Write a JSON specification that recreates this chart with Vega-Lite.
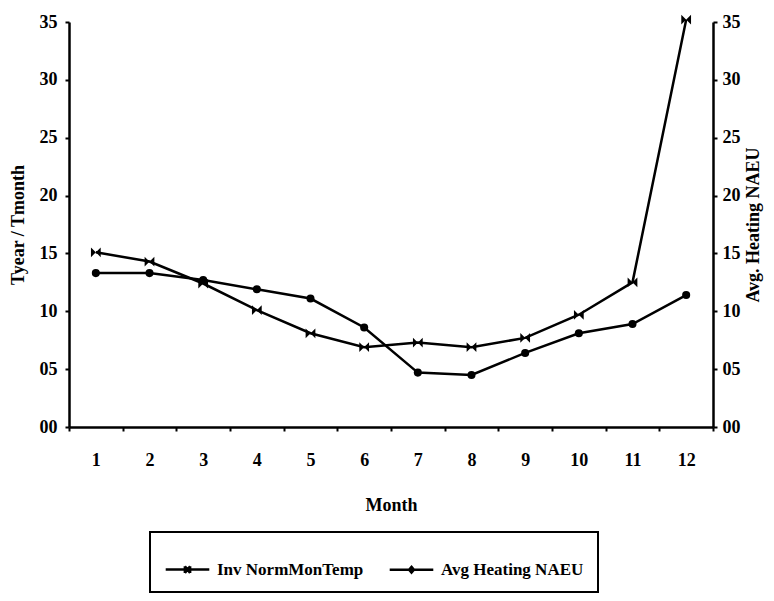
{
  "$schema": "https://vega.github.io/schema/vega-lite/v6.json",
  "width": 644,
  "height": 405,
  "autosize": {"type": "none"},
  "padding": {"left": 69, "top": 22, "right": 61, "bottom": 174},
  "background": "white",
  "config": {
    "view": {"stroke": null},
    "font": "Liberation Serif",
    "axis": {
      "grid": false,
      "domainColor": "black",
      "domainWidth": 2.5,
      "tickColor": "black",
      "tickWidth": 2,
      "tickSize": 4,
      "labelFont": "Liberation Serif",
      "labelFontWeight": "bold",
      "labelFontSize": 18,
      "labelColor": "black",
      "titleFont": "Liberation Serif",
      "titleFontWeight": "bold",
      "titleFontSize": 18,
      "titleColor": "black"
    },
    "legend": {"strokeWidth": 2}
  },
  "data": {
    "values": [
      {"month": 1, "series": "Inv NormMonTemp", "v": 1.51},
      {"month": 2, "series": "Inv NormMonTemp", "v": 1.43},
      {"month": 3, "series": "Inv NormMonTemp", "v": 1.24},
      {"month": 4, "series": "Inv NormMonTemp", "v": 1.01},
      {"month": 5, "series": "Inv NormMonTemp", "v": 0.81},
      {"month": 6, "series": "Inv NormMonTemp", "v": 0.69},
      {"month": 7, "series": "Inv NormMonTemp", "v": 0.73},
      {"month": 8, "series": "Inv NormMonTemp", "v": 0.69},
      {"month": 9, "series": "Inv NormMonTemp", "v": 0.77},
      {"month": 10, "series": "Inv NormMonTemp", "v": 0.97},
      {"month": 11, "series": "Inv NormMonTemp", "v": 1.25},
      {"month": 12, "series": "Inv NormMonTemp", "v": 3.52},
      {"month": 1, "series": "Avg Heating NAEU", "v": 13.3},
      {"month": 2, "series": "Avg Heating NAEU", "v": 13.3},
      {"month": 3, "series": "Avg Heating NAEU", "v": 12.7},
      {"month": 4, "series": "Avg Heating NAEU", "v": 11.9},
      {"month": 5, "series": "Avg Heating NAEU", "v": 11.1},
      {"month": 6, "series": "Avg Heating NAEU", "v": 8.6},
      {"month": 7, "series": "Avg Heating NAEU", "v": 4.7},
      {"month": 8, "series": "Avg Heating NAEU", "v": 4.5},
      {"month": 9, "series": "Avg Heating NAEU", "v": 6.4},
      {"month": 10, "series": "Avg Heating NAEU", "v": 8.1},
      {"month": 11, "series": "Avg Heating NAEU", "v": 8.9},
      {"month": 12, "series": "Avg Heating NAEU", "v": 11.4}
    ]
  },
  "encoding": {
    "x": {
      "field": "month",
      "type": "ordinal",
      "bandPosition": 0.5,
      "scale": {"type": "band", "paddingInner": 0, "paddingOuter": 0},
      "axis": {
        "title": "Month",
        "labelAngle": 0,
        "tickBand": "extent",
        "labelPadding": 20,
        "titlePadding": 27,
        "labelDx": 3
      }
    }
  },
  "layer": [
    {
      "transform": [{"filter": "datum.series == 'Inv NormMonTemp'"}],
      "encoding": {
        "y": {
          "field": "v",
          "type": "quantitative",
          "scale": {"domain": [0, 3.5], "nice": false},
          "axis": {
            "title": "Tyear / Tmonth",
            "values": [0, 0.5, 1, 1.5, 2, 2.5, 3, 3.5],
            "labelExpr": "replace(format(datum.value, '.1f'), '.', '')",
            "labelPadding": 8,
            "titlePadding": 12
          }
        }
      },
      "layer": [
        {"mark": {"type": "line", "color": "black", "strokeWidth": 2.5, "clip": false}},
        {"mark": {"type": "point", "shape": "M-1,-1L1,1L1,-1L-1,1Z", "filled": true, "color": "black", "size": 95, "opacity": 1}},
        {
          "transform": [{"filter": "false"}],
          "mark": {"type": "point", "filled": false, "color": "black", "strokeWidth": 2.5, "size": 1900, "opacity": 1},
          "encoding": {
            "shape": {
              "field": "series",
              "type": "nominal",
              "scale": {
                "domain": ["Inv NormMonTemp", "Avg Heating NAEU"],
                "range": [
                  "M-1,0H1M-0.12,-0.15L0.12,0.15M0.12,-0.15L-0.12,0.15M-0.12,-0.15V0.15M0.12,-0.15V0.15",
                  "M-1,0H1M0,-0.13L0.11,0L0,0.13L-0.11,0ZM-0.05,0H0.05M0,-0.06V0.06"
                ]
              },
              "legend": {
                "title": null,
                "orient": "none",
                "direction": "horizontal",
                "legendX": 81,
                "legendY": 510,
                "strokeColor": "black",
                "padding": 14,
                "symbolSize": 1900,
                "symbolStrokeColor": "black",
                "symbolStrokeWidth": 2.5,
                "symbolOpacity": 1,
                "labelFont": "Liberation Serif",
                "labelFontWeight": "bold",
                "labelFontSize": 17,
                "labelColor": "black",
                "labelOffset": 6,
                "columnPadding": 20
              }
            }
          }
        }
      ]
    },
    {
      "transform": [{"filter": "datum.series == 'Avg Heating NAEU'"}],
      "encoding": {
        "y": {
          "field": "v",
          "type": "quantitative",
          "scale": {"domain": [0, 35], "nice": false},
          "axis": {
            "orient": "right",
            "title": "Avg. Heating NAEU",
            "titleAngle": -90,
            "titleBaseline": "top",
            "values": [0, 5, 10, 15, 20, 25, 30, 35],
            "labelExpr": "datum.value < 10 ? '0' + format(datum.value, 'd') : format(datum.value, 'd')",
            "labelPadding": 5,
            "titlePadding": 4
          }
        }
      },
      "layer": [
        {"mark": {"type": "line", "color": "black", "strokeWidth": 2.5}},
        {"mark": {"type": "point", "shape": "circle", "filled": true, "color": "black", "size": 65, "opacity": 1}}
      ]
    }
  ],
  "resolve": {"scale": {"y": "independent"}}
}
